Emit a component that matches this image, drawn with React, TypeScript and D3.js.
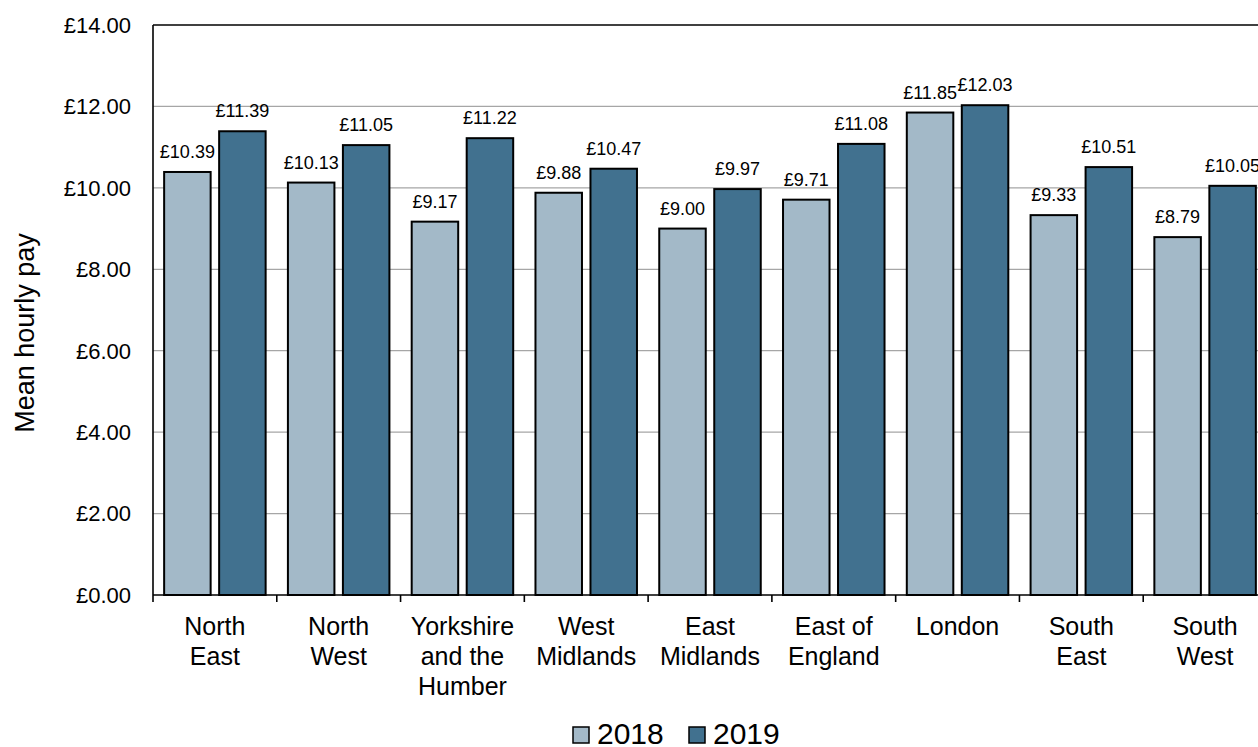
import React from "react";
import * as d3 from "d3";

const categories: string[][] = [
  ["North", "East"],
  ["North", "West"],
  ["Yorkshire", "and the", "Humber"],
  ["West", "Midlands"],
  ["East", "Midlands"],
  ["East of", "England"],
  ["London"],
  ["South", "East"],
  ["South", "West"],
];
const series = ["2018", "2019"];
const values2018 = [10.39, 10.13, 9.17, 9.88, 9.0, 9.71, 11.85, 9.33, 8.79];
const values2019 = [11.39, 11.05, 11.22, 10.47, 9.97, 11.08, 12.03, 10.51, 10.05];
const yTicks = [0, 2, 4, 6, 8, 10, 12, 14];
const colors = ["#a3b9c8", "#41718f"];

const W = 1258;
const H = 747;
const left = 153;
const right = 1267;
const top = 25;
const bottom = 595;
const font = "'Liberation Sans', Arial, sans-serif";

export default function App() {
  const keys = categories.map((c) => c.join(" "));
  const x0 = d3.scaleBand<string>().domain(keys).range([left, right]).padding(0);
  const x1 = d3
    .scaleBand<string>()
    .domain(series)
    .range([0, x0.bandwidth()])
    .paddingInner(0.1545)
    .paddingOuter(0.2025);
  const y = d3.scaleLinear().domain([0, 14]).range([bottom, top]);
  const fmt = (v: number) => "£" + d3.format(".2f")(v);
  const data = [values2018, values2019];

  return (
    <svg
      width={W}
      height={H}
      style={{ position: "absolute", left: 0, top: 0, background: "#fff" }}
      fontFamily={font}
    >
      {/* gridlines */}
      {yTicks.slice(1, -1).map((t) => (
        <line key={"g" + t} x1={left} x2={right} y1={y(t)} y2={y(t)} stroke="#a6a6a6" strokeWidth={1.2} />
      ))}
      {/* y tick labels */}
      {yTicks.map((t) => (
        <text key={"yt" + t} x={131} y={y(t)} dy="0.36em" textAnchor="end" fontSize={22} fill="#000">
          {fmt(t)}
        </text>
      ))}
      {/* bars */}
      {keys.map((k, i) =>
        series.map((s, j) => {
          const v = data[j][i];
          const bx = (x0(k) as number) + (x1(s) as number);
          return (
            <g key={k + s}>
              <rect
                x={bx}
                y={y(v)}
                width={x1.bandwidth()}
                height={bottom - y(v)}
                fill={colors[j]}
                stroke="#000"
                strokeWidth={2}
              />
              <text x={bx + x1.bandwidth() / 2} y={y(v) - 14} textAnchor="middle" fontSize={18} fill="#000">
                {fmt(v)}
              </text>
            </g>
          );
        })
      )}
      {/* frame */}
      <line x1={left} x2={right} y1={top} y2={top} stroke="#000" strokeWidth={1.6} />
      <line x1={left} x2={left} y1={top} y2={bottom} stroke="#000" strokeWidth={1.6} />
      <line x1={right} x2={right} y1={top} y2={bottom} stroke="#000" strokeWidth={1.6} />
      <line x1={left} x2={right} y1={bottom} y2={bottom} stroke="#000" strokeWidth={1.6} />
      {/* x ticks */}
      {keys.map((k) => (
        <line key={"xt" + k} x1={x0(k) as number} x2={x0(k) as number} y1={bottom} y2={602} stroke="#000" strokeWidth={1.6} />
      ))}
      <line x1={right} x2={right} y1={bottom} y2={602} stroke="#000" strokeWidth={1.6} />
      {/* category labels */}
      {categories.map((lines, i) => (
        <text key={"c" + i} x={(x0(keys[i]) as number) + x0.bandwidth() / 2} textAnchor="middle" fontSize={25} fill="#000">
          {lines.map((l, li) => (
            <tspan key={li} x={(x0(keys[i]) as number) + x0.bandwidth() / 2} y={635 + li * 30}>
              {l}
            </tspan>
          ))}
        </text>
      ))}
      {/* y title */}
      <text transform="translate(34,333) rotate(-90)" textAnchor="middle" fontSize={27} fill="#000">
        Mean hourly pay
      </text>
      {/* legend */}
      {series.map((s, j) => {
        const lx = [573, 689][j];
        return (
          <g key={"l" + s}>
            <rect x={lx} y={727} width={16} height={16} fill={colors[j]} stroke="#000" strokeWidth={1.5} />
            <text x={lx + 24} y={744} fontSize={30} fill="#000">
              {s}
            </text>
          </g>
        );
      })}
    </svg>
  );
}
